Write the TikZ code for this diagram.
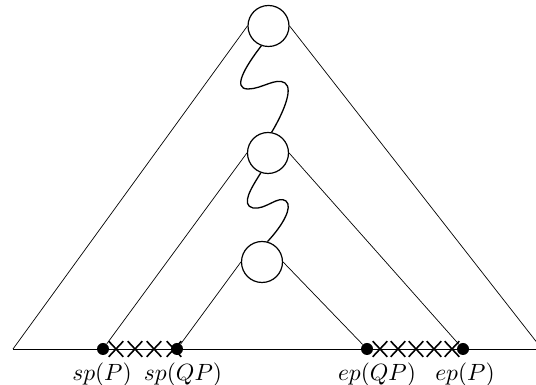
\documentclass[tikz,border=0pt]{standalone}
\usepackage{amsmath}
\usepackage{tikz}
\usetikzlibrary{shapes.misc}

\begin{document}
\begin{tikzpicture}[x=1pt,y=1pt,line width=0.7pt,
  knot/.style={circle,draw,line width=1.2pt,minimum size=41pt,inner sep=0pt},
  endpt/.style={circle,fill,minimum size=12pt,inner sep=0pt},
  skip/.style={cross out,draw,line width=1.6pt,minimum width=13pt,minimum height=14pt,inner sep=0pt},
  lbl/.style={anchor=base,scale=2.35}]
  \useasboundingbox (0,0) rectangle (536,385);
  % base line and end points
  \coordinate (L) at (13,36);
  \coordinate (R) at (542,36);
  \draw (L) -- (R);
  \node[endpt] (spP) at (103,36) {};
  \node[endpt] (spQP) at (177,36) {};
  \node[endpt] (epQP) at (367,36) {};
  \node[endpt] (epP) at (463,36) {};
  \foreach \x in {116,135,154,174} \node[skip] at (\x,36) {};
  \foreach \x in {380,398,416,434,452} \node[skip] at (\x,36) {};
  % the three circles
  \node[knot] (top) at (268.5,359) {};
  \node[knot] (mid) at (268,232) {};
  \node[knot] (bot) at (262,123) {};
  \draw (top.west) -- (L);
  \draw (top.east) -- (R);
  \draw (mid.west) -- (spP);
  \draw (mid.east) -- (epP);
  \draw (bot.west) -- (spQP);
  \draw (bot.east) -- (epQP);
  % wavy links
  \draw[line width=1.3pt] (top.250) .. controls (245,318) and (232,296) .. (248,296)
    .. controls (262,296) and (276,308) .. (285,302) .. controls (294,296) and (282,270) .. (mid.80);
  \draw[line width=1.3pt] (mid.250) .. controls (252,198) and (240,180) .. (253,177)
    .. controls (266,175) and (278,190) .. (286,184) .. controls (293,178) and (283,160) .. (bot.75);
  % labels
  \node[lbl] (tspP) at (102,4) {$sp(P)$};
  \node[lbl] (tspQP) at (183,4) {$sp(QP)$};
  \node[lbl] (tepQP) at (377,4) {$ep(QP)$};
  \node[lbl] (tepP) at (465,4) {$ep(P)$};
\end{tikzpicture}
\end{document}
